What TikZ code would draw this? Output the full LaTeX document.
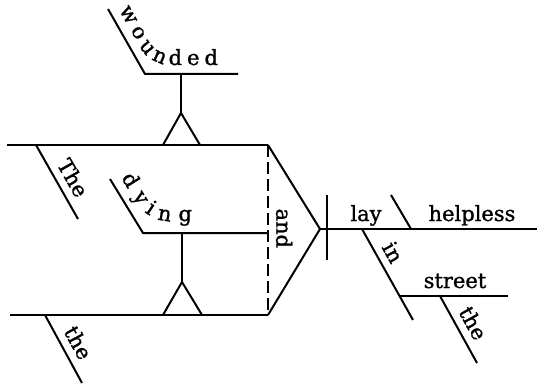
\documentclass[tikz,border=0pt]{standalone}
\usepackage{fontspec}
\newfontfamily\wordface{DejaVu Serif}[FakeBold=1.2]
\usetikzlibrary{decorations.text}
\newcommand{\wordfont}{\wordface\fontsize{21}{25}\selectfont}

\begin{document}
\begin{tikzpicture}[x=1pt, y=-1pt,
    line/.style={line width=2pt},
    dashline/.style={line width=2pt, dash pattern=on 12pt off 5pt},
    word/.style={font=\wordfont, inner sep=0pt},
    onslant/.style={word, sloped, above=7pt},
    bentword/.style={decorate, rounded corners=20pt, decoration={text along path, text={|\wordfont|#1}, text align=fit to path}}
]
    \useasboundingbox (0,0) rectangle (537,385);

    % First subject: The wounded
    \coordinate (s1L) at (7,145);
    \coordinate (s1R) at (268,145);
    \coordinate (s1art) at (36,145);
    \coordinate (s1artE) at (78,219);
    \draw[line] (s1L) -- (s1R);
    \draw[line] (s1art) -- node[onslant, pos=0.55] (the1) {The} (s1artE);

    \coordinate (w1a) at (163,145);
    \coordinate (w1b) at (200,145);
    \coordinate (w1apex) at (181,113);
    \coordinate (w1top) at (181,74);
    \coordinate (w1tip) at (108,9);
    \coordinate (w1bend) at (145,74);
    \coordinate (w1end) at (238,74);
    \draw[line] (w1a) -- (w1apex) -- (w1b);
    \draw[line] (w1apex) -- (w1top);
    \draw[line] (w1tip) -- (w1bend) -- (w1end);
    \path[bentword=wounded] (119,10) -- (150,65) -- (218,65);

    % Second subject: the dying
    \coordinate (s2L) at (10,315);
    \coordinate (s2R) at (268,315);
    \coordinate (s2art) at (45,315);
    \coordinate (s2artE) at (82,383);
    \draw[line] (s2L) -- (s2R);
    \draw[line] (s2art) -- node[onslant, pos=0.52] (the2) {the} (s2artE);

    \coordinate (d1a) at (163,315);
    \coordinate (d1b) at (202,315);
    \coordinate (d1apex) at (182,282);
    \coordinate (d1top) at (182,233);
    \coordinate (d1tip) at (110,179);
    \coordinate (d1bend) at (143,233);
    \coordinate (d1end) at (268,233);
    \draw[line] (d1a) -- (d1apex) -- (d1b);
    \draw[line] (d1apex) -- (d1top);
    \draw[line] (d1tip) -- (d1bend) -- (d1end);
    \path[bentword=dying] (121,178) -- (148,221) -- (192,221);

    % Conjunction and fork
    \coordinate (fork) at (320,229);
    \draw[dashline] (s1R) -- node[onslant, pos=0.49] (and) {and} (s2R);
    \draw[line] (s1R) -- (fork) -- (s2R);

    % Predicate: lay helpless
    \coordinate (pEnd) at (537,229);
    \coordinate (div1) at (327,195);
    \coordinate (div2) at (327,260);
    \coordinate (cmp1) at (391,195);
    \coordinate (cmp2) at (411,229);
    \draw[line] (fork) -- (pEnd);
    \draw[line] (div1) -- (div2);
    \draw[line] (cmp1) -- (cmp2);
    \node[word, anchor=base] (lay) at (366,221) {lay};
    \node[word, anchor=base] (helpless) at (472,221) {helpless};

    % Phrase: in the street
    \coordinate (in1) at (362,229);
    \coordinate (in2) at (413,320);
    \coordinate (st1) at (400,296);
    \coordinate (st2) at (508,296);
    \coordinate (the3a) at (440,296);
    \coordinate (the3b) at (477,363);
    \draw[line] (in1) -- node[onslant, pos=0.34] (in) {in} (in2);
    \draw[line] (st1) -- (st2);
    \node[word, anchor=base] (street) at (455,288) {street};
    \draw[line] (the3a) -- node[onslant, pos=0.52] (the3) {the} (the3b);
\end{tikzpicture}
\end{document}
